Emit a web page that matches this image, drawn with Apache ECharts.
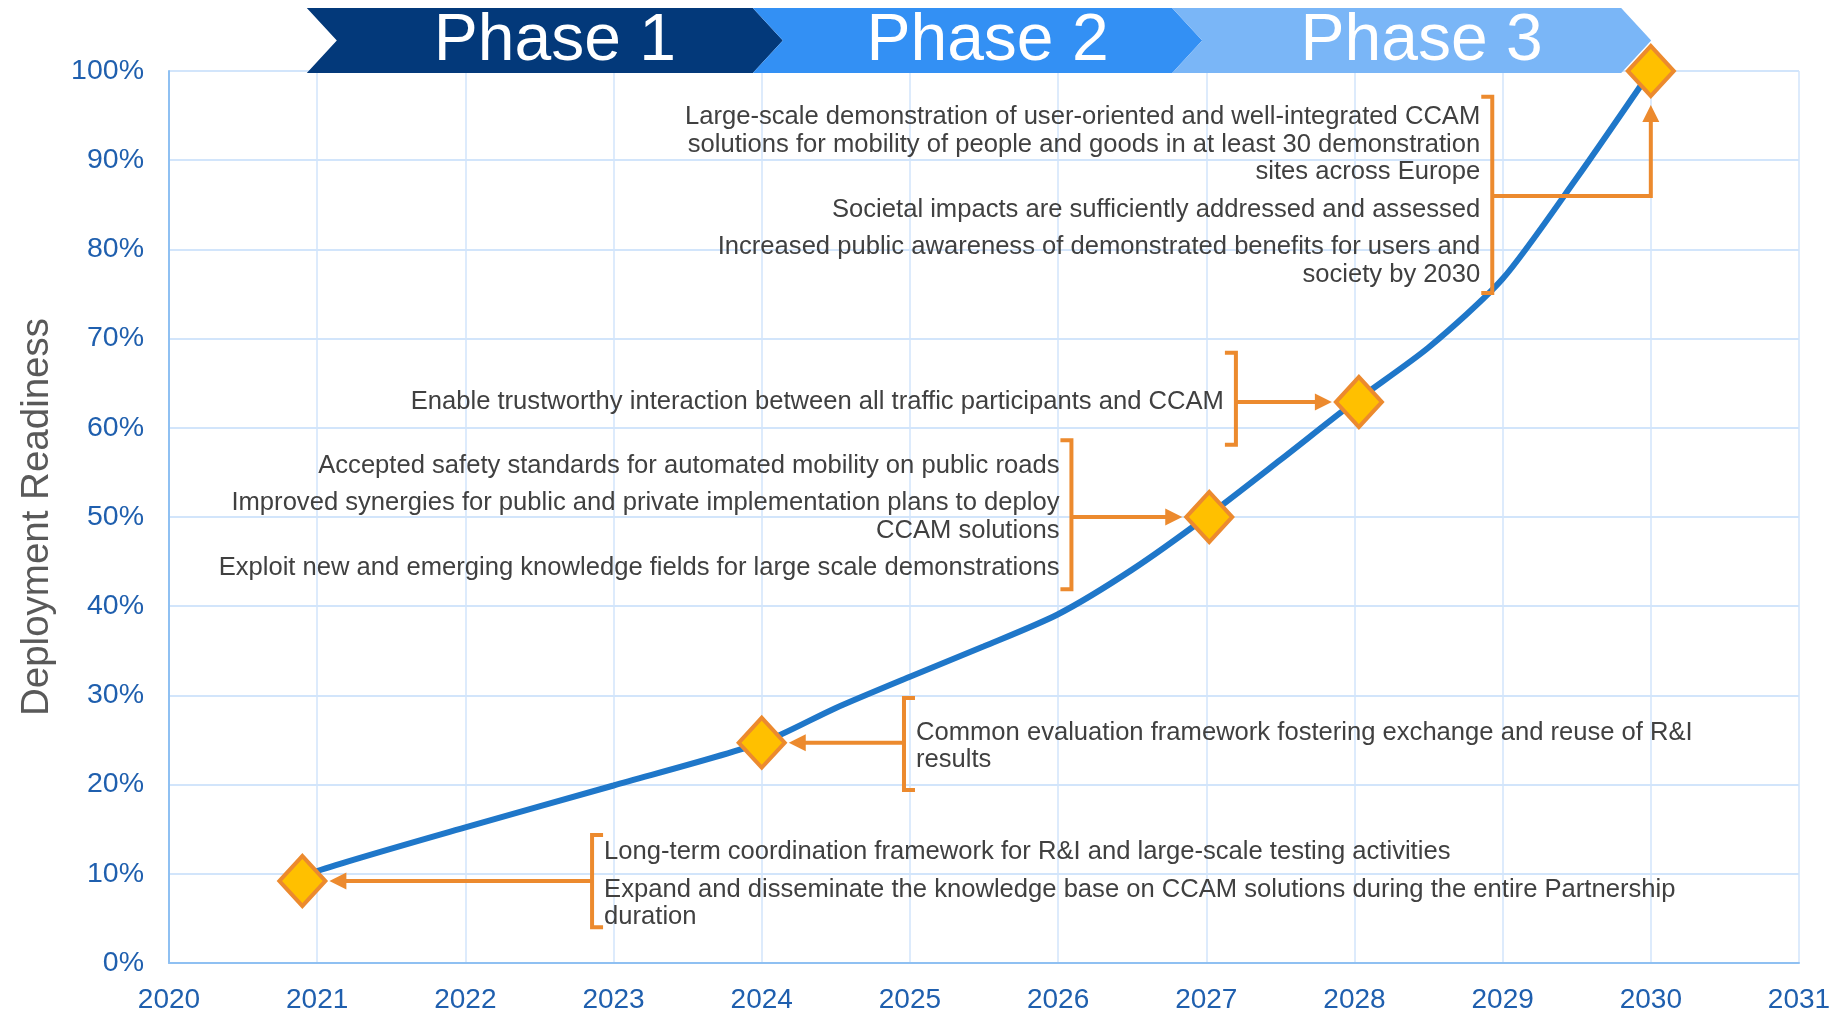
<!DOCTYPE html>
<html><head><meta charset="utf-8">
<script src="https://cdn.jsdelivr.net/npm/echarts@6/dist/echarts.min.js"></script>
<style>html,body{margin:0;padding:0;background:#fff}#chart{width:1844px;height:1012px}</style>
</head><body><div id="chart"></div>
<script>
// ---- data ----
const curveYears = [2020.9, 2021, 2022, 2023, 2024, 2024.5, 2025, 2025.5, 2026, 2026.5, 2027, 2027.5, 2028, 2028.5, 2029, 2029.5, 2030];
const curveValues = [9.2, 10.3, 15.2, 19.9, 24.7, 28.6, 32.1, 35.5, 39.1, 44.1, 50.0, 56.4, 62.9, 69.0, 76.7, 88.0, 100];
const milestoneYears = [2020.9, 2024, 2027.02, 2028.03, 2030];
const milestoneValues = [9.2, 24.7, 50.0, 62.9, 100];
const xTickLabels = ['2020','2021','2022','2023','2024','2025','2026','2027','2028','2029','2030','2031'];
const yTickLabels = ['0%','10%','20%','30%','40%','50%','60%','70%','80%','90%','100%'];
const phaseNames = ['Phase 1', 'Phase 2', 'Phase 3'];
const phaseStart = [2020.93, 2023.94, 2026.77];
const phaseEnd = [2023.94, 2026.77, 2029.80];
const noteTexts = [
  [["Long-term coordination framework for R&I and large-scale testing activities"],
   ["Expand and disseminate the knowledge base on CCAM solutions during the entire Partnership", "duration"]],
  [["Common evaluation framework fostering exchange and reuse of R&I", "results"]],
  [["Accepted safety standards for automated mobility on public roads"],
   ["Improved synergies for public and private implementation plans to deploy", "CCAM solutions"],
   ["Exploit new and emerging knowledge fields for large scale demonstrations"]],
  [["Enable trustworthy interaction between all traffic participants and CCAM"]],
  [["Large-scale demonstration of user-oriented and well-integrated CCAM", "solutions for mobility of people and goods in at least 30 demonstration", "sites across Europe"],
   ["Societal impacts are sufficiently addressed and assessed"],
   ["Increased public awareness of demonstrated benefits for users and", "society by 2030"]]
];
const noteMilestone = [0, 1, 2, 3, 4];
const noteBracketYear = [2022.855, 2024.96, 2026.09, 2027.2, 2028.93];
const noteBracketLow = [4.0, 19.4, 41.9, 58.1, 75.1];
const noteBracketHigh = [14.35, 29.7, 58.6, 68.4, 97.1];
const noteSide = ['right', 'right', 'left', 'left', 'left'];
const noteElbowValue = [null, null, null, null, 86.0];

// ---- styles ----
const ORANGE = '#EC8A2E';
const LABEL_BLUE = '#1F5FAE';
const TEXT_GRAY = '#404040';
const FONT = '"Liberation Sans", Arial, sans-serif';
const phaseColors = ['#03397A', '#3390F4', '#7AB6F7'];

const chart = echarts.init(document.getElementById('chart'), null, {renderer: 'canvas'});

function renderPhase(params, api) {
  const i = params.dataIndex;
  const s = api.coord([api.value(0), 100]);
  const e = api.coord([api.value(1), 100]);
  const top = s[1] - 63, bottom = s[1] + 2, mid = (top + bottom) / 2;
  const tip = 30;
  const xs = s[0], xe = e[0];
  return {
    type: 'group',
    children: [
      {type: 'polygon', shape: {points: [[xs, top], [xe, top], [xe + tip, mid], [xe, bottom], [xs, bottom], [xs + tip, mid]]},
       style: {fill: phaseColors[i]}},
      {type: 'text', x: (xs + xe) / 2 + 25, y: mid + 1,
       style: {text: phaseNames[i], fill: '#ffffff', font: '66px ' + FONT,
               align: 'center', verticalAlign: 'middle', textAlign: 'center', textVerticalAlign: 'middle'}}
    ]
  };
}

function arrowHead(tx, ty, dx, dy) {
  const len = 17, half = 8.5;
  const bx = tx - dx * len, by = ty - dy * len;
  const px = -dy, py = dx;
  return {type: 'polygon', shape: {points: [[tx, ty], [bx + px * half, by + py * half], [bx - px * half, by - py * half]]},
          style: {fill: ORANGE}};
}

function renderNote(params, api) {
  const i = params.dataIndex;
  const m = noteMilestone[i];
  const bx = api.coord([api.value(0), 0])[0];
  const yLow = api.coord([0, api.value(1)])[1];
  const yHigh = api.coord([0, api.value(2)])[1];
  const mp = api.coord([milestoneYears[m], milestoneValues[m]]);
  const dir = noteSide[i] === 'right' ? 1 : -1;
  const hook = 11;
  const children = [];
  const lineStyle = {stroke: ORANGE, lineWidth: 4, fill: null, lineJoin: 'miter'};
  children.push({type: 'polyline', shape: {points: [[bx + dir * hook, yHigh], [bx, yHigh], [bx, yLow], [bx + dir * hook, yLow]]},
                 style: lineStyle});
  let centerY;
  if (noteElbowValue[i] != null) {
    const ey = api.coord([0, noteElbowValue[i]])[1];
    centerY = ey;
    const tipY = mp[1] + 34;
    children.push({type: 'polyline', shape: {points: [[bx, ey], [mp[0], ey], [mp[0], tipY + 8]]}, style: lineStyle});
    children.push(arrowHead(mp[0], tipY, 0, -1));
  } else {
    centerY = mp[1] + (dir === 1 ? 4 : 0);
    const adir = mp[0] > bx ? 1 : -1;
    const tipX = mp[0] - adir * 27;
    children.push({type: 'polyline', shape: {points: [[bx, mp[1]], [tipX - adir * 8, mp[1]]]}, style: lineStyle});
    children.push(arrowHead(tipX, mp[1], adir, 0));
  }
  // text layout
  const lh = 27.5, gap = 10;
  const offs = [];
  let y = 0;
  const paras = noteTexts[i];
  const lines = [];
  paras.forEach((p, pi) => {
    if (pi > 0) y += gap;
    p.forEach(t => { lines.push(t); offs.push(y); y += lh; });
  });
  const span = offs[offs.length - 1];
  const tx = bx + dir * 12;
  lines.forEach((t, k) => {
    children.push({type: 'text', x: tx, y: centerY - span / 2 + offs[k],
      style: {text: t, fill: TEXT_GRAY, font: '25.6px ' + FONT,
              align: dir === 1 ? 'left' : 'right', textAlign: dir === 1 ? 'left' : 'right',
              verticalAlign: 'middle', textVerticalAlign: 'middle'}});
  });
  return {type: 'group', children: children};
}

const option = {
  animation: false,
  backgroundColor: '#ffffff',
  grid: {left: 169, right: 45, top: 71, bottom: 49, containLabel: false, outerBoundsMode: 'none'},
  xAxis: {
    type: 'value', min: 2020, max: 2031, interval: 1,
    axisLine: {show: true, lineStyle: {color: '#8FC0F2', width: 2}},
    axisTick: {show: false},
    axisLabel: {color: LABEL_BLUE, fontSize: 28, fontFamily: FONT, margin: 23,
                formatter: v => xTickLabels[Math.round(v - 2020)]},
    splitLine: {show: true, lineStyle: {color: '#D2E5FB', width: 1.5}}
  },
  yAxis: {
    type: 'value', min: 0, max: 100, interval: 10,
    name: 'Deployment Readiness', nameLocation: 'middle', nameGap: 112,
    nameTextStyle: {color: '#595959', fontSize: 38.5, fontFamily: FONT},
    axisLine: {show: true, lineStyle: {color: '#8FC0F2', width: 2}},
    axisTick: {show: false},
    axisLabel: {color: LABEL_BLUE, fontSize: 28.5, fontFamily: FONT, margin: 25,
                formatter: v => yTickLabels[Math.round(v / 10)]},
    splitLine: {show: true, lineStyle: {color: '#D2E5FB', width: 2}}
  },
  series: [
    {
      type: 'line', name: 'Readiness', z: 2,
      data: curveYears.map((x, i) => [x, curveValues[i]]),
      smooth: 0.25, showSymbol: false, symbol: 'none',
      lineStyle: {color: '#1F77C9', width: 6}
    },
    {
      type: 'custom', name: 'notes', z: 3, silent: true, clip: false,
      renderItem: renderNote,
      encode: {x: 0, y: [1, 2]},
      data: noteBracketYear.map((x, i) => [x, noteBracketLow[i], noteBracketHigh[i]])
    },
    {
      type: 'custom', name: 'phases', z: 4, silent: true, clip: false,
      renderItem: renderPhase,
      encode: {x: [0, 1], y: 2},
      data: phaseStart.map((s, i) => [s, phaseEnd[i], 100])
    },
    {
      type: 'scatter', name: 'Milestones', z: 10,
      data: milestoneYears.map((x, i) => [x, milestoneValues[i]]),
      symbol: 'diamond', symbolSize: [46, 50],
      itemStyle: {color: '#FFC000', borderColor: ORANGE, borderWidth: 4, opacity: 1}
    }
  ]
};
chart.setOption(option);
</script>
</body></html>
